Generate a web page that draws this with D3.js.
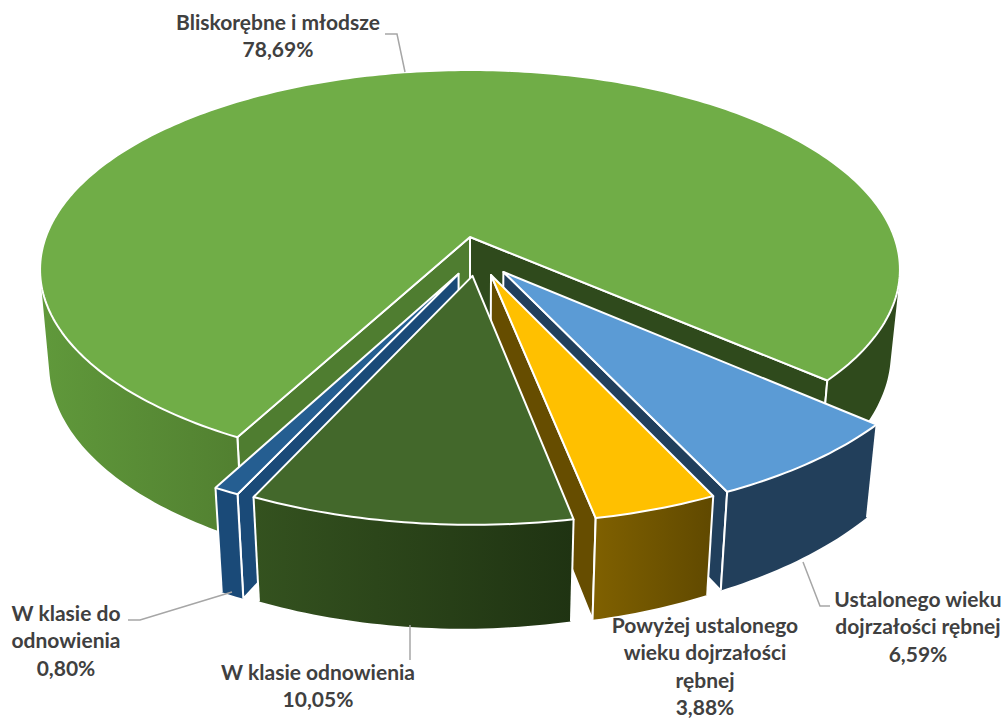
<!DOCTYPE html>
<meta charset="utf-8">
<style>
body { margin: 0; background: #fff; }
svg { display: block; }
.label { font-family: Lato, "Open Sans", sans-serif; font-weight: 700; font-size: 21px; fill: #404040; }
.leader { fill: none; stroke: #a6a6a6; stroke-width: 1.5px; }
.face { stroke: #fff; stroke-width: 2px; stroke-linejoin: round; }
.edge { stroke: #fff; stroke-width: 2px; fill: none; }
</style>
<svg width="1005" height="720"></svg>
<script src="https://d3js.org/d3.v7.min.js"></script>
<script>

// values
var names = ["Bliskorębne i młodsze", "Ustalonego wieku dojrzałości rębnej", "Powyżej ustalonego wieku dojrzałości rębnej", "W klasie odnowienia", "W klasie do odnowienia"];
var shares = [78.69, 6.59, 3.88, 10.05, 0.80];
var labelLines = [
  ["Bliskorębne i młodsze", "78,69%"],
  ["Ustalonego wieku", "dojrzałości rębnej", "6,59%"],
  ["Powyżej ustalonego", "wieku dojrzałości", "rębnej", "3,88%"],
  ["W klasie odnowienia", "10,05%"],
  ["W klasie do", "odnowienia", "0,80%"]
];

// styles, same order as the slices
var topColors = ["#70ad47", "#5b9bd5", "#ffc000", "#43682b", "#255e91"];
var wallStops = [
  [[0, "#60993b"], [0.24, "#517f30"], [0.8, "#2f4a1c"], [1, "#2f4a1c"]],
  [[0, "#223f5b"], [1, "#223f5b"]],
  [[0, "#7f6000"], [1, "#604900"]],
  [[0, "#34521f"], [1, "#1f3312"]],
  [[0, "#1a4a78"], [1, "#1a4a78"]]
];
// which cut faces can be seen: s = start side, e = end side
var visibleFaces = [
  {s: "#4f7d30", e: "#2f4a1c"},
  {e: "#213f5c"},
  {e: "#664d00"},
  {},
  {s: "#1a4a78"}
];
var labelPos = [[278, 30], [918, 607], [705, 633], [318, 680], [66, 621]];
var leaders = [
  [[385, 34], [397, 34], [405, 72]],
  [[803, 562], [820, 606], [830, 606]],
  [[410, 625], [410, 660]],
  [[128, 620], [140, 620], [232, 592]]
];

var svg = d3.select("svg");
var defs = svg.append("defs");
var rad = Math.PI / 180;

var pie = d3.pie().sort(null).value(d => d)
    .startAngle(208 * rad).endAngle((208 + 360) * rad);
var arcs = pie(shares);

// perspective: plane coords u (right), v (far), d=0 top, d=1 bottom
var k = 0.163, m = 0.021, originX = 470, originY = 237;
var scaleU = d3.scaleLinear().domain([0, 1]).range([0, 424.2]);
var scaleV = d3.scaleLinear().domain([0, 1]).range([0, -194.2]);
var depth = 92;

function project(u, v, d) {
  var w = 1 + k * v + m * d;
  var tilt = u < 0 ? 4 : 8;
  return [originX + scaleU(u) / w,
          originY + (scaleV(v) + depth * d) / w - tilt * u * d];
}

var explode = 0.098;
var mid0 = (arcs[0].startAngle + arcs[0].endAngle) / 2;
var centerU = -explode * Math.sin(mid0), centerV = -explode * Math.cos(mid0);

var line = d3.line();

arcs.forEach(function(a, i) {
  var mid = (a.startAngle + a.endAngle) / 2;
  a.au = centerU + explode * Math.sin(mid);
  a.av = centerV + explode * Math.cos(mid);
  a.rim = function(t, d) {
    return project(a.au + Math.sin(t), a.av + Math.cos(t), d);
  };
  var n = Math.max(3, Math.ceil((a.endAngle - a.startAngle) / rad));
  a.angles = d3.range(n + 1).map(j => a.startAngle + (a.endAngle - a.startAngle) * j / n);

  var xs = a.angles.map(t => a.rim(t, 0)[0]);
  var g = defs.append("linearGradient").attr("id", "wall" + i)
      .attr("gradientUnits", "userSpaceOnUse")
      .attr("x1", d3.min(xs)).attr("x2", d3.max(xs)).attr("y1", 0).attr("y2", 0);
  wallStops[i].forEach(s => g.append("stop").attr("offset", s[0]).attr("stop-color", s[1]));
});

// outer wall as one path: every quad wound the same way, so they simply add up
function wallPath(a) {
  return d3.pairs(a.angles).map(function(p) {
    var q = [a.rim(p[0], 0), a.rim(p[1], 0), a.rim(p[1], 1), a.rim(p[0], 1)];
    if (d3.polygonArea(q) < 0) q.reverse();
    return line(q) + "Z";
  }).join("");
}

function drawSlice(a, i) {
  var g = svg.append("g").attr("class", "slice").attr("data-name", names[i]);
  var radial = function(t) {
    return [project(a.au, a.av, 0), a.rim(t, 0), a.rim(t, 1), project(a.au, a.av, 1)];
  };
  // cut faces
  if (visibleFaces[i].e) g.append("path").attr("class", "face").attr("fill", visibleFaces[i].e).attr("d", line(radial(a.endAngle)) + "Z");
  if (visibleFaces[i].s) g.append("path").attr("class", "face").attr("fill", visibleFaces[i].s).attr("d", line(radial(a.startAngle)) + "Z");
  g.append("path").attr("fill", "url(#wall" + i + ")").attr("d", wallPath(a));
  // white edges of the wall
  [a.startAngle, a.endAngle].forEach(function(t) {
    g.append("path").attr("class", "edge").attr("d", line([a.rim(t, 0), a.rim(t, 1)]));
  });
  // top
  var top = [project(a.au, a.av, 0)].concat(a.angles.map(t => a.rim(t, 0)));
  g.append("path").attr("class", "face").attr("fill", topColors[i]).attr("d", line(top) + "Z");
}

// back to front
[0, 4, 1, 2, 3].forEach(i => drawSlice(arcs[i], i));

svg.selectAll(".leader").data(leaders).enter().append("path")
    .attr("class", "leader")
    .attr("d", d => line(d));

labelLines.forEach(function(lines, i) {
  var t = svg.append("text").attr("class", "label").attr("text-anchor", "middle")
      .attr("x", labelPos[i][0]).attr("y", labelPos[i][1]);
  lines.forEach(function(s, j) {
    t.append("tspan").attr("x", labelPos[i][0]).attr("dy", j ? 27.3 : 0).text(s);
  });
});

</script>
